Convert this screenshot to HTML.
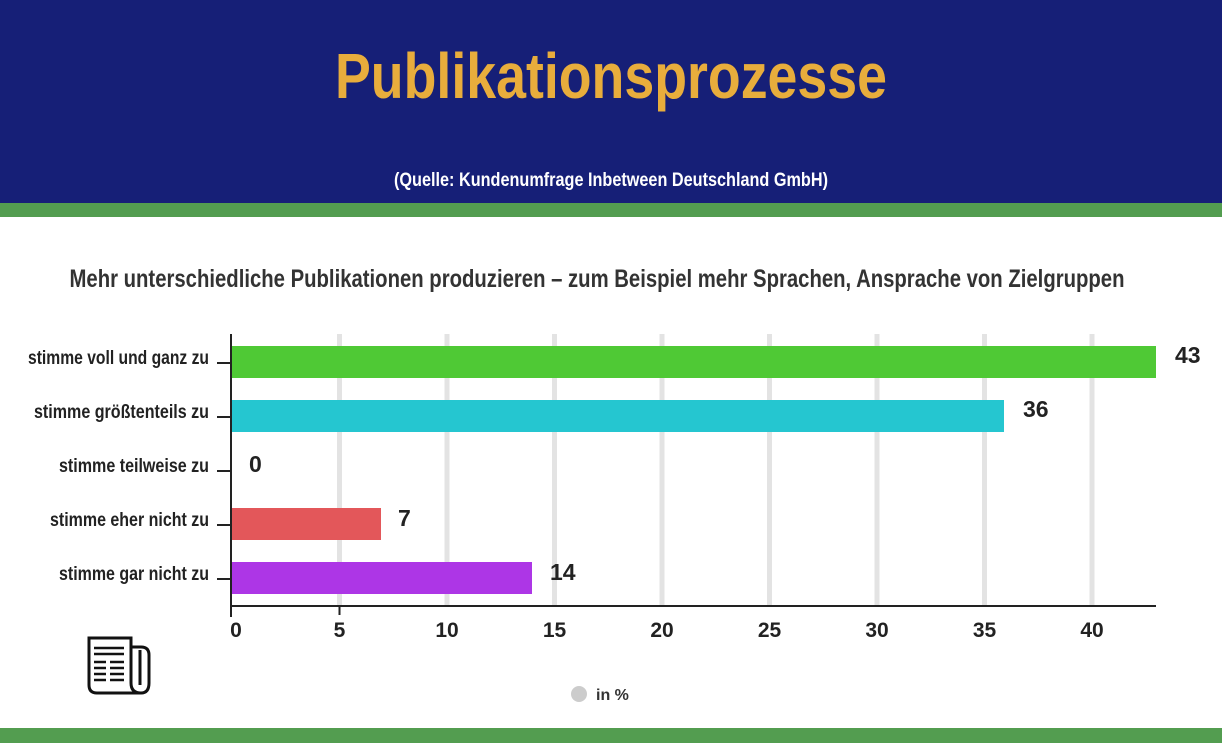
<!DOCTYPE html>
<html><head><meta charset="utf-8"><style>
html,body{margin:0;padding:0;background:#fff;}
svg{display:block;}
text{font-family:"Liberation Sans Narrow","Liberation Sans",sans-serif;}
</style></head><body>
<svg width="1222" height="743" viewBox="0 0 1222 743" xmlns="http://www.w3.org/2000/svg">
<rect x="0" y="0" width="1222" height="203" fill="#161f77"/>
<rect x="0" y="203" width="1222" height="14" fill="#539d50"/>
<rect x="0" y="728" width="1222" height="15" fill="#539d50"/>
<text x="611" y="98" text-anchor="middle" font-size="64" font-weight="bold" fill="#e8ad3c" textLength="552" lengthAdjust="spacingAndGlyphs">Publikationsprozesse</text>
<text x="611" y="186" text-anchor="middle" font-size="19" font-weight="bold" fill="#fff" textLength="434" lengthAdjust="spacingAndGlyphs">(Quelle: Kundenumfrage Inbetween Deutschland GmbH)</text>
<text x="597" y="287" text-anchor="middle" font-size="25" font-weight="bold" fill="#333" textLength="1055" lengthAdjust="spacingAndGlyphs">Mehr unterschiedliche Publikationen produzieren – zum Beispiel mehr Sprachen, Ansprache von Zielgruppen</text>
<g stroke="#e3e3e3" stroke-width="5">
<line x1="339.5" y1="334" x2="339.5" y2="606"/><line x1="447" y1="334" x2="447" y2="606"/><line x1="554.5" y1="334" x2="554.5" y2="606"/><line x1="662" y1="334" x2="662" y2="606"/><line x1="769.5" y1="334" x2="769.5" y2="606"/><line x1="877" y1="334" x2="877" y2="606"/><line x1="984.5" y1="334" x2="984.5" y2="606"/><line x1="1092" y1="334" x2="1092" y2="606"/>
</g>
<rect x="232" y="346" width="924" height="32" fill="#4fc935"/>
<rect x="232" y="400" width="772" height="32" fill="#25c6d0"/>
<rect x="232" y="508" width="149" height="32" fill="#e3575a"/>
<rect x="232" y="562" width="300" height="32" fill="#ad36e6"/>
<g stroke="#222" stroke-width="2">
<line x1="231" y1="334" x2="231" y2="617"/><line x1="230" y1="606" x2="1156" y2="606"/>
<line x1="217" y1="363" x2="231" y2="363"/><line x1="217" y1="417" x2="231" y2="417"/><line x1="217" y1="471" x2="231" y2="471"/><line x1="217" y1="525" x2="231" y2="525"/><line x1="217" y1="579" x2="231" y2="579"/>
<line x1="339.5" y1="606" x2="339.5" y2="615"/>
</g>
<g font-size="19" font-weight="bold" fill="#222" text-anchor="end">
<text x="209" y="364" textLength="181" lengthAdjust="spacingAndGlyphs">stimme voll und ganz zu</text>
<text x="209" y="418" textLength="175" lengthAdjust="spacingAndGlyphs">stimme größtenteils zu</text>
<text x="209" y="472" textLength="150" lengthAdjust="spacingAndGlyphs">stimme teilweise zu</text>
<text x="209" y="526" textLength="159" lengthAdjust="spacingAndGlyphs">stimme eher nicht zu</text>
<text x="209" y="580" textLength="150" lengthAdjust="spacingAndGlyphs">stimme gar nicht zu</text>
</g>
<g font-size="23" font-weight="bold" fill="#222">
<text x="1175" y="363">43</text><text x="1023" y="417">36</text><text x="249" y="472">0</text><text x="398" y="526">7</text><text x="550" y="580">14</text>
</g>
<g font-size="21" font-weight="bold" fill="#222" text-anchor="middle">
<text x="236" y="637">0</text><text x="339.5" y="637">5</text><text x="447" y="637">10</text><text x="554.5" y="637">15</text><text x="662" y="637">20</text><text x="769.5" y="637">25</text><text x="877" y="637">30</text><text x="984.5" y="637">35</text><text x="1092" y="637">40</text>
</g>
<circle cx="579" cy="694" r="8" fill="#ccc"/>
<text x="596" y="700" font-size="16" font-weight="bold" fill="#333">in %</text>
<g fill="none" stroke="#111" stroke-width="3">
<path d="M89 638 H131 V683 Q131 693 141 693 H97 Q89 693 89 685 Z"/>
<path d="M131 647 H141 Q149 647 149 655 V683 Q149 693 141 693"/>
<line x1="140" y1="650" x2="140" y2="685"/>
</g>
<g stroke="#111" stroke-width="2.5">
<line x1="94" y1="648" x2="124" y2="648"/><line x1="94" y1="654" x2="124" y2="654"/>
<line x1="94" y1="662" x2="106" y2="662"/><line x1="110" y1="662" x2="124" y2="662"/>
<line x1="94" y1="668" x2="106" y2="668"/><line x1="110" y1="668" x2="124" y2="668"/>
<line x1="94" y1="674" x2="106" y2="674"/><line x1="110" y1="674" x2="124" y2="674"/>
<line x1="94" y1="680" x2="106" y2="680"/><line x1="110" y1="680" x2="124" y2="680"/>
</g>
</svg>
</body></html>
